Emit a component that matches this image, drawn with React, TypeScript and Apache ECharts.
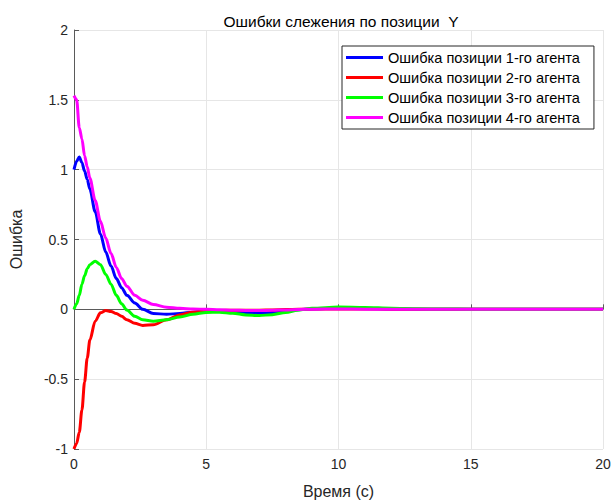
import React, { useEffect, useRef } from "react";
import * as echarts from "echarts";

const title = "Ошибки слежения по позиции  Y";
const xName = "Время (с)";
const yName = "Ошибка";

const time = [0, 0.1, 0.2, 0.3, 0.4, 0.5, 0.6, 0.8, 1.0, 1.2, 1.4, 1.6, 1.8, 2.0, 2.3, 2.6, 3.0, 3.5, 4.0, 4.5, 5.0, 5.5, 6.0, 6.5, 7.0, 7.5, 8.0, 8.5, 9.0, 10, 11, 12, 13, 14, 15, 16, 18, 20];

const agent1 = [1.0, 1.06, 1.09, 1.05, 0.99, 0.93, 0.86, 0.70, 0.54, 0.41, 0.31, 0.22, 0.155, 0.10, 0.045, 0.0, -0.03, -0.035, -0.03, -0.02, -0.012, -0.01, -0.015, -0.025, -0.028, -0.022, -0.012, -0.003, 0.003, 0.008, 0.006, 0.003, 0.001, 0, 0, 0, 0, 0];
const agent2 = [-1.0, -0.96, -0.88, -0.72, -0.52, -0.35, -0.22, -0.085, -0.025, -0.008, -0.015, -0.03, -0.05, -0.075, -0.10, -0.115, -0.11, -0.075, -0.04, -0.02, -0.012, -0.008, -0.006, -0.006, -0.006, -0.004, -0.002, 0, 0.002, 0.003, 0.002, 0.001, 0, 0, 0, 0, 0, 0];
const agent3 = [0.0, 0.04, 0.10, 0.18, 0.24, 0.29, 0.32, 0.345, 0.32, 0.25, 0.18, 0.10, 0.04, -0.005, -0.05, -0.075, -0.085, -0.075, -0.055, -0.035, -0.022, -0.02, -0.028, -0.04, -0.045, -0.038, -0.022, -0.005, 0.008, 0.016, 0.013, 0.008, 0.004, 0.002, 0.001, 0, 0, 0];
const agent4 = [1.53, 1.50, 1.30, 1.22, 1.10, 1.02, 0.94, 0.78, 0.63, 0.51, 0.40, 0.30, 0.22, 0.165, 0.10, 0.065, 0.035, 0.015, 0.007, 0.003, 0.0, -0.003, -0.006, -0.008, -0.009, -0.007, -0.004, -0.001, 0.001, 0.002, 0.001, 0, 0, 0, 0, 0, 0, 0];

const seriesNames = [
  "Ошибка позиции 1-го агента",
  "Ошибка позиции 2-го агента",
  "Ошибка позиции 3-го агента",
  "Ошибка позиции 4-го агента",
];
const seriesValues = [agent1, agent2, agent3, agent4];
const seriesColors = ["#0000FF", "#FF0000", "#00FF00", "#FF00FF"];

const FONT = "'Liberation Sans', Arial, sans-serif";

export default function App() {
  const ref = useRef<HTMLDivElement>(null);
  useEffect(() => {
    if (!ref.current) return;
    const chart = echarts.init(ref.current, undefined, { renderer: "svg" });
    chart.setOption({
      animation: false,
      backgroundColor: "#ffffff",
      textStyle: { fontFamily: FONT },
      title: {
        text: title,
        left: 336,
        textAlign: "center",
        top: 8,
        textStyle: { fontFamily: FONT, fontSize: 15.5, fontWeight: "normal", color: "#000000" },
      },
      grid: { left: 69, right: 13, top: 30, bottom: 52, containLabel: false },
      legend: {
        orient: "vertical",
        left: 342,
        top: 46,
        icon: "rect",
        itemWidth: 37,
        itemHeight: 3,
        itemGap: 3,
        padding: [3, 14, 3, 4],
        borderColor: "#262626",
        borderWidth: 1,
        backgroundColor: "#ffffff",
        textStyle: { fontFamily: FONT, fontSize: 14.6, color: "#000000", lineHeight: 17 },
        data: seriesNames,
      },
      xAxis: {
        type: "value",
        min: 0,
        max: 20,
        interval: 5,
        name: xName,
        nameLocation: "middle",
        nameGap: 34,
        nameTextStyle: { fontFamily: FONT, fontSize: 16, color: "#262626" },
        axisLine: { show: true, lineStyle: { color: "#5a5a5a", width: 1 } },
        axisTick: { show: true, inside: true, length: 5, lineStyle: { color: "#5a5a5a" } },
        axisLabel: { fontFamily: FONT, fontSize: 14, color: "#262626", margin: 8 },
        splitLine: { show: true, lineStyle: { color: "#e6e6e6", width: 1 } },
      },
      yAxis: {
        type: "value",
        min: -1,
        max: 2,
        interval: 0.5,
        name: yName,
        nameLocation: "middle",
        nameGap: 50,
        nameTextStyle: { fontFamily: FONT, fontSize: 16, color: "#262626" },
        axisLine: { show: true, lineStyle: { color: "#5a5a5a", width: 1 } },
        axisTick: { show: true, inside: true, length: 5, lineStyle: { color: "#5a5a5a" } },
        axisLabel: { fontFamily: FONT, fontSize: 14, color: "#262626", margin: 6 },
        splitLine: { show: true, lineStyle: { color: "#e6e6e6", width: 1 } },
      },
      series: seriesNames.map((name, i) => ({
        name,
        type: "line",
        data: time.map((t, j) => [t, seriesValues[i][j]]),
        showSymbol: false,
        smooth: 0.3,
        smoothMonotone: "x",
        color: seriesColors[i],
        lineStyle: { color: seriesColors[i], width: 3 },
        z: 2 + i,
      })),
    });
    return () => chart.dispose();
  }, []);
  return <div ref={ref} style={{ position: "fixed", left: 0, top: 0, width: 616, height: 504 }} />;
}
